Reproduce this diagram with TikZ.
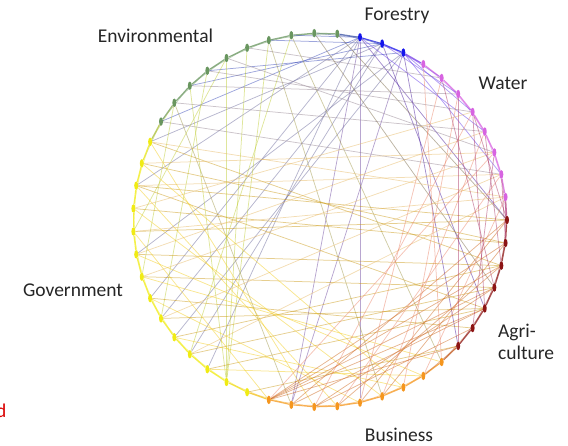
\documentclass[tikz,border=0pt]{standalone}
\usepackage{fontspec}
\setmainfont{Carlito}
\usetikzlibrary{shapes.geometric,backgrounds}

\definecolor{forest}{RGB}{20,20,235}
\definecolor{water}{RGB}{215,100,225}
\definecolor{agri}{RGB}{140,20,20}
\definecolor{busi}{RGB}{245,150,30}
\definecolor{govt}{RGB}{240,235,20}
\definecolor{envir}{RGB}{105,150,95}

% sector colour of actor number #1 (0 = east, counted anticlockwise)
\newcommand\sectcol[1]{\ifnum#1<1 agri\else\ifnum#1<9 water\else\ifnum#1<12 forest\else\ifnum#1<22 envir\else\ifnum#1<36 govt\else\ifnum#1<45 busi\else agri\fi\fi\fi\fi\fi\fi}

\tikzset{
  actor/.style={ellipse, inner sep=0pt, minimum width=4pt, minimum height=8.5pt},
  link/.style={line width=0.75pt, draw opacity=0.48},
  rim/.style={line width=1pt, draw opacity=0.7},
  sector/.style={font=\fontsize{19.5}{22}\selectfont, text=black!85, inner sep=0pt}
}

\begin{document}
\begin{tikzpicture}[x=1pt,y=1pt]
  \useasboundingbox (0,0) rectangle (568,445);

  % actors on the ring
  \foreach \k in {0,...,50} {
    \edef\c{\sectcol{\k}}
    \node[actor, fill=\c] (n\k) at ({320+187*cos(360/51*\k)},{225+187*sin(360/51*\k)}) {};
  }

  \begin{scope}[on background layer]
    % ring neighbours
    \foreach \k in {0,...,50} {
      \pgfmathtruncatemacro\m{mod(\k+1,51)}
      \pgfmathtruncatemacro\mm{mod(\k+2,51)}
      \edef\ca{\sectcol{\k}}\edef\cb{\sectcol{\m}}\edef\cc{\sectcol{\mm}}
      \draw[rim, draw=\ca!50!\cb] (n\k) -- (n\m);
      \draw[link, draw=\ca!50!\cc] (n\k) -- (n\mm);
    }
    % collaborations across the ring
    \foreach \a/\b in {
        9/18, 9/27, 9/31, 9/37, 9/45, 9/2, 9/5,
        10/22, 10/30, 10/32, 10/15, 10/19, 10/6, 10/47,
        11/40, 11/0, 11/37, 11/21, 11/24, 11/29, 11/33, 11/14, 11/4,
        12/0, 14/44, 20/37, 15/41, 17/3, 20/4, 21/2, 19/6, 18/5, 16/7,
        34/15, 34/16, 34/17, 34/19, 32/14, 30/18, 28/20, 26/17, 13/48,
        24/0, 25/50, 27/49, 30/47, 28/48, 32/48, 26/0, 23/50, 29/46,
        31/49, 33/47, 35/45, 22/49, 24/47,
        22/1, 23/3, 24/2, 25/5, 26/1, 28/3, 27/4, 30/2, 32/1,
        22/38, 23/42, 25/41, 27/43, 28/44, 29/40, 31/42, 33/43, 26/36, 24/39,
        36/45, 36/47, 36/48, 36/49, 36/50, 38/46, 38/48, 37/47, 39/49,
        40/0, 41/50, 37/0,
        36/3, 38/5, 39/2, 41/4, 42/6, 43/1, 40/7, 44/8,
        45/6, 47/5, 46/3, 48/7, 49/4, 50/2, 0/5} {
      \edef\ca{\sectcol{\a}}\edef\cb{\sectcol{\b}}
      \draw[link, draw=\ca!62!\cb] (n\a) -- (n\b);
    }
  \end{scope}

  % sector names
  \node[sector, anchor=base] (forestry) at (397,424) {Forestry};
  \node[sector, anchor=base] (environmental) at (155.5,402) {Environmental};
  \node[sector, anchor=base] (waterlab) at (503,355) {Water};
  \node[sector, anchor=base] (government) at (73,148) {Government};
  \node[sector, anchor=base west] (agri) at (498,107) {Agri-};
  \node[sector, anchor=base west] (culture) at (498,85) {culture};
  \node[sector, anchor=base] (business) at (399,4) {Business};
  \node[sector, anchor=base east, text=red!85!black] (cut) at (6.5,28) {d};
\end{tikzpicture}
\end{document}
